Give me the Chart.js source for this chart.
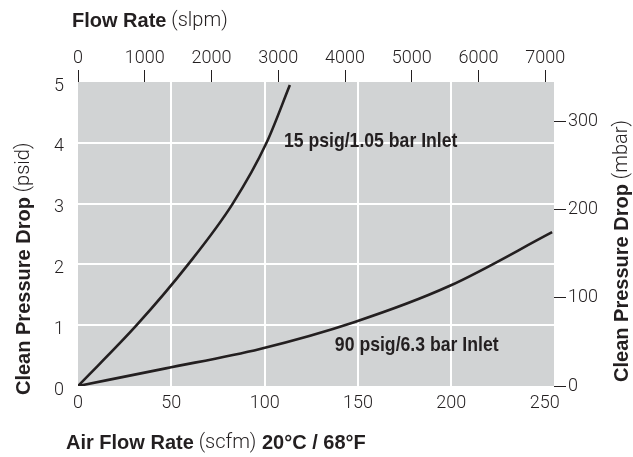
<!DOCTYPE html>
<html>
<head>
<meta charset="utf-8">
<script src="https://cdn.jsdelivr.net/npm/chart.js@4.4.1/dist/chart.umd.min.js"></script>
<style>
  body { margin: 0; background: #fff; }
  #wrap { width: 633px; height: 457px; }
</style>
</head>
<body>
<div id="wrap"><canvas id="dropChart" width="633" height="457"></canvas></div>
<script>
// curves (scfm vs psid)
const scfm15 = [0, 31.4, 59, 82.9, 101, 113.5];
const psid15 = [0, 1, 2, 3, 4, 4.95];
const scfm90 = [0, 47, 97.5, 147.9, 198.6, 254];
const psid90 = [0, 0.29, 0.61, 1.05, 1.64, 2.53];

const scfmTicks = [0, 50, 100, 150, 200, 250];
const slpmTicks = [0, 1000, 2000, 3000, 4000, 5000, 6000, 7000];
const psidTicks = [0, 1, 2, 3, 4, 5];
const mbarTicks = [0, 100, 200, 300];

const curveNames = ['15 psig/1.05 bar Inlet', '90 psig/6.3 bar Inlet'];
const nameScfm = [110.3, 137.6];
const namePsid = [4.02, 0.67];

const INK = '#231f20';
const BOLD = 'bold 20px "Liberation Sans", Arial, sans-serif';
const LIGHT = '300 20px Roboto, "Liberation Sans", sans-serif';
const tickFont = { family: 'Roboto', size: 18, weight: '300' };

function pts(xs, ys) {
    return xs.map((x, i) => ({ x: x, y: ys[i] }));
}

function drawRuns(ctx, runs, x, y) {
    runs.forEach(r => {
        ctx.font = r[1];
        ctx.fillText(r[0], x, y);
        x += ctx.measureText(r[0]).width;
    });
}

function runsWidth(ctx, runs) {
    let w = 0;
    runs.forEach(r => { ctx.font = r[1]; w += ctx.measureText(r[0]).width; });
    return w;
}

const decor = {
    id: 'decor',
    beforeDraw(chart) {
        const a = chart.chartArea, ctx = chart.ctx;
        ctx.save();
        ctx.fillStyle = '#d1d3d4';
        ctx.fillRect(a.left, a.top, a.right - a.left, a.bottom - a.top);
        ctx.restore();
    },
    afterDatasetsDraw(chart) {
        const ctx = chart.ctx;
        const xs = chart.scales.x, ys = chart.scales.y;
        ctx.save();
        ctx.fillStyle = INK;
        ctx.textBaseline = 'middle';
        ctx.font = 'bold 21px "Liberation Sans", Arial, sans-serif';
        curveNames.forEach((t, i) => {
            // squeeze to look like the condensed face in the original
            ctx.save();
            ctx.translate(xs.getPixelForValue(nameScfm[i]), ys.getPixelForValue(namePsid[i]));
            ctx.scale(0.84, 1);
            ctx.fillText(t, 0, 0);
            ctx.restore();
        });
        ctx.restore();
    },
    afterDraw(chart) {
        const ctx = chart.ctx;
        ctx.save();
        ctx.fillStyle = INK;
        ctx.textBaseline = 'middle';
        drawRuns(ctx, [['Flow Rate', BOLD], [' (slpm)', LIGHT]], 72, 21);
        drawRuns(ctx, [['Air Flow Rate', BOLD], [' (scfm)', LIGHT], [' 20°C / 68°F', BOLD]], 66, 443);

        const left = [['Clean Pressure Drop', BOLD], [' (psid)', LIGHT]];
        ctx.save();
        ctx.translate(24, 395);
        ctx.rotate(-Math.PI / 2);
        drawRuns(ctx, left, 0, 0);
        ctx.restore();

        const right = [['Clean Pressure Drop', BOLD], [' (mbar)', LIGHT]];
        const w = runsWidth(ctx, right);
        ctx.save();
        ctx.translate(622, 120 + w);
        ctx.rotate(-Math.PI / 2);
        drawRuns(ctx, right, 0, 0);
        ctx.restore();
        ctx.restore();
    }
};

const ctx = document.getElementById('dropChart').getContext('2d');
const dropChart = new Chart(ctx, {
    type: 'line',
    data: {
        datasets: [{
            label: curveNames[0],
            data: pts(scfm15, psid15),
            borderColor: INK,
            borderWidth: 2.6,
            pointRadius: 0,
            cubicInterpolationMode: 'monotone',
            fill: false
        }, {
            label: curveNames[1],
            data: pts(scfm90, psid90),
            borderColor: INK,
            borderWidth: 2.6,
            pointRadius: 0,
            cubicInterpolationMode: 'monotone',
            fill: false
        }]
    },
    options: {
        responsive: false,
        animation: false,
        layout: { padding: 0 },
        plugins: { legend: { display: false }, tooltip: { enabled: false } },
        scales: {
            x: {
                type: 'linear',
                position: 'bottom',
                min: 0,
                max: 255,
                afterBuildTicks: s => { s.ticks = scfmTicks.map(v => ({ value: v })); },
                afterFit: s => { s.height = 71; },
                border: { display: false },
                grid: {
                    drawTicks: false,
                    lineWidth: 2,
                    color: c => (c.tick && c.tick.value > 0 && c.tick.value < 250) ? '#ffffff' : 'rgba(0,0,0,0)'
                },
                ticks: { color: INK, font: tickFont, padding: 7, maxRotation: 0, callback: v => String(v) }
            },
            x2: {
                type: 'linear',
                position: 'top',
                min: 0,
                max: 7130,
                afterBuildTicks: s => { s.ticks = slpmTicks.map(v => ({ value: v })); },
                afterFit: s => { s.height = 82; },
                border: { display: false },
                grid: { drawOnChartArea: false, drawTicks: true, tickLength: 12, color: INK, lineWidth: 1 },
                ticks: { color: INK, font: tickFont, padding: 1, maxRotation: 0, callback: v => String(v) }
            },
            y: {
                type: 'linear',
                position: 'left',
                min: 0,
                max: 5,
                afterBuildTicks: s => { s.ticks = psidTicks.map(v => ({ value: v })); },
                afterFit: s => { s.width = 78; },
                border: { display: false },
                grid: {
                    drawTicks: false,
                    lineWidth: 2,
                    color: c => (c.tick && c.tick.value > 0 && c.tick.value < 5) ? '#ffffff' : 'rgba(0,0,0,0)'
                },
                ticks: { color: INK, font: tickFont, padding: 14, labelOffset: 4, callback: v => String(v) }
            },
            y2: {
                type: 'linear',
                position: 'right',
                min: 0,
                max: 5 * 68.948,
                afterBuildTicks: s => { s.ticks = mbarTicks.map(v => ({ value: v })); },
                afterFit: s => { s.width = 79; },
                border: { display: false },
                grid: { drawOnChartArea: false, drawTicks: true, tickLength: 12, color: INK, lineWidth: 1 },
                ticks: { color: INK, font: tickFont, padding: 2, callback: v => String(v) }
            }
        }
    },
    plugins: [decor]
});
</script>
</body>
</html>
